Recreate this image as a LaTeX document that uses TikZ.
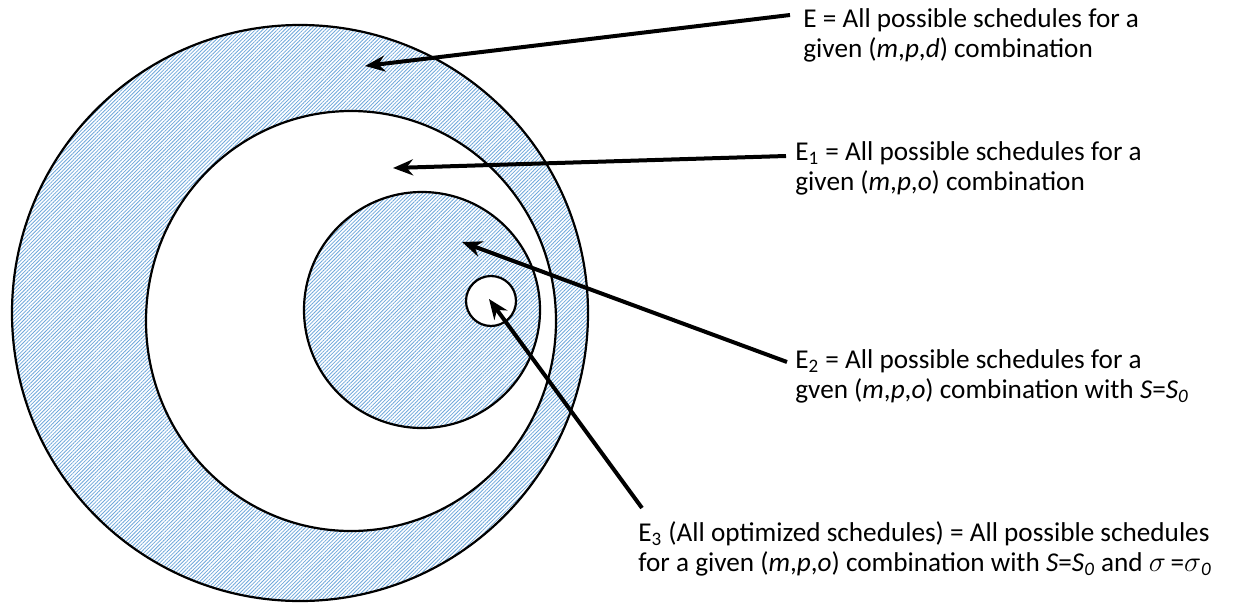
\documentclass[tikz,border=0pt]{standalone}
\usepackage{fontspec}
\setmainfont{Carlito}
\usetikzlibrary{arrows.meta,patterns.meta}
\definecolor{hatchblue}{HTML}{6FA8DC}
\tikzset{
  vhatch/.style={draw=black,line width=1.1pt,preaction={fill=white},pattern={Lines[angle=45,distance=1.3pt,line width=0.4pt]},pattern color=hatchblue},
  vclear/.style={draw=black,line width=1.1pt,fill=white},
  varr/.style={-{Stealth[length=10pt,width=8pt]},line width=2pt,draw=black},
  vlabel/.style={anchor=north west,inner sep=0pt,align=left,font=\fontsize{13.6pt}{15pt}\selectfont}
}

\begin{document}
\begin{tikzpicture}[x=0.5pt,y=-0.5pt]
  \useasboundingbox (0,0) rectangle (1246,605);
  % nested sets, outermost first
  \draw[vhatch] (300,313) circle[radius=288];
  \draw[vclear] (351,321) circle[x radius=205,y radius=210];
  \draw[vhatch] (422,310) circle[radius=118];
  \draw[vclear] (491,301) circle[radius=25];
  % set descriptions
  \node[vlabel] (labE) at (803,8) {E = All possible schedules for a\\given (\textit{m},\textit{p},\textit{d}) combination};
  \node[vlabel] (labEone) at (795,141) {E\textsubscript{1} = All possible schedules for a\\given (\textit{m},\textit{p},\textit{o}) combination};
  \node[vlabel] (labEtwo) at (795,349) {E\textsubscript{2} = All possible schedules for a\\gven (\textit{m},\textit{p},\textit{o}) combination with \textit{S}=\textit{S}\textsubscript{\textit{0}}};
  \node[vlabel] (labEthree) at (638,521) {E\textsubscript{3} (All optimized schedules) = All possible schedules\\for a given (\textit{m},\textit{p},\textit{o}) combination with \textit{S}=\textit{S}\textsubscript{\textit{0}} and $\sigma$\,=$\sigma$\textsubscript{\textit{0}}};
  % pointer ends
  \coordinate (tailE) at (790,15);
  \coordinate (tipE) at (365,66);
  \coordinate (tailEone) at (786,156);
  \coordinate (tipEone) at (393,168);
  \coordinate (tailEtwo) at (787,362);
  \coordinate (tipEtwo) at (462,242);
  \coordinate (tailEthree) at (642,508);
  \coordinate (tipEthree) at (489,299);
  \foreach \s in {E,Eone,Etwo,Ethree}
    \draw[varr] (tail\s) -- (tip\s);
\end{tikzpicture}
\end{document}
